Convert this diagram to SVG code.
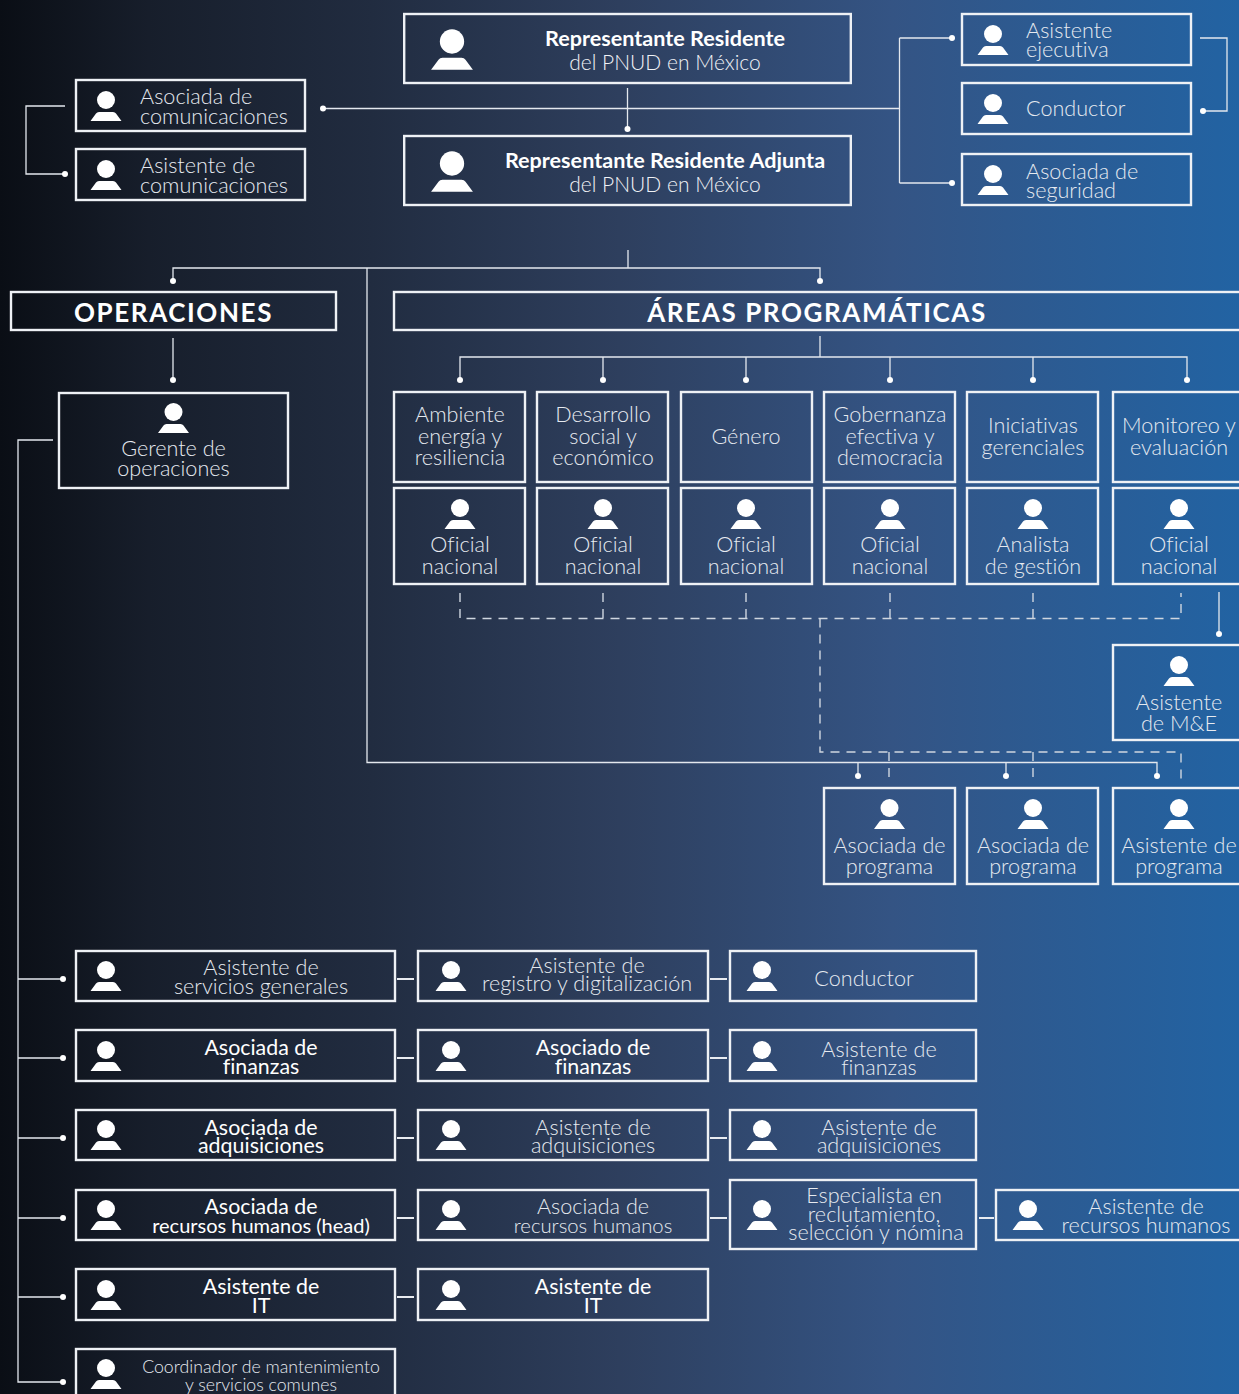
<svg xmlns="http://www.w3.org/2000/svg" width="1239" height="1394" viewBox="0 0 1239 1394">
<style>
text{font-family:"Lato","Liberation Sans",sans-serif;font-weight:300;font-size:21.6px;fill:#e6eaf0;text-anchor:middle;font-variant-ligatures:none}
.l{text-anchor:start}
.b{font-weight:700;font-size:21.6px;fill:#fff}
.r{font-weight:300;font-size:21px;fill:#f0f2f6}
.h{font-weight:700;font-size:26px;fill:#fff;letter-spacing:1.6px}
.w{fill:#fff;font-weight:400;font-size:21.4px}
.s{font-size:17.7px}
.q{font-size:20.3px}
rect.n{fill:none;stroke:#eef1f5;stroke-width:2.4}
.c{fill:none;stroke:#e4e8ee;stroke-width:1.3}
.d{fill:none;stroke:#cfd6e0;stroke-width:1.4;stroke-dasharray:9 7}
.k{fill:none;stroke:#e8ebf0;stroke-width:2.2}
.o{fill:#fff}
</style>
<defs>
<linearGradient id="bg" x1="0" y1="0" x2="1" y2="0">
<stop offset="0" stop-color="#0a0e15"/>
<stop offset="0.12" stop-color="#171e2b"/>
<stop offset="0.3" stop-color="#212c40"/>
<stop offset="0.5" stop-color="#2e3f5e"/>
<stop offset="0.72" stop-color="#345484"/>
<stop offset="1" stop-color="#2263a3"/>
</linearGradient>
<g id="p"><circle r="9" fill="#fff"/><path d="M-15.500 21L-10 13.500Q-9 12 -7 12H7Q9 12 10 13.500L15.500 21Z" fill="#fff"/></g>
</defs>
<rect width="1239" height="1394" fill="url(#bg)"/>
<g id="connectors">
<path class="c" d="M627.500 88V129M323 108.500H899.500M899.500 38V183M899.500 38H952M899.500 183H952M1200 38H1227V111H1203M65 106H26V174H65"/>
<path class="c" d="M628 250V268M173 281V268H820V281M367 268V762.500H1157V776M858 762.500V776M1006 762.500V776M173 338V380"/>
<path class="c" d="M820 336V357M460 380V357H1187V380M603 357V380M746 357V380M890 357V380M1033 357V380M1219 592V634"/>
<path class="d" d="M460 593V618.500H1181V593M603 593V618.500M746 593V618.500M890 593V618.500M1033 593V618.500M820 618.500V752H1181V781M889 752V781M1033 752V781"/>
<path class="c" d="M53 440H18V1382H65M18 979H65M18 1058H65M18 1138H65M18 1218H65M18 1297H65"/>
<path class="k" d="M397 979H414M710 979H727M397 1058H414M710 1058H727M397 1138H414M710 1138H727M397 1218H414M710 1218H727M979 1218H994M397 1297H414"/>
<g class="o">
<circle cx="627.500" cy="129" r="3"/><circle cx="323" cy="108.500" r="3"/><circle cx="952" cy="38" r="3"/><circle cx="952" cy="183" r="3"/><circle cx="1203" cy="111" r="3"/><circle cx="65" cy="174" r="3"/>
<circle cx="173" cy="281" r="3"/><circle cx="820" cy="281" r="3"/><circle cx="173" cy="380" r="3"/>
<circle cx="460" cy="380" r="3"/><circle cx="603" cy="380" r="3"/><circle cx="746" cy="380" r="3"/><circle cx="890" cy="380" r="3"/><circle cx="1033" cy="380" r="3"/><circle cx="1187" cy="380" r="3"/>
<circle cx="1219" cy="634" r="3"/><circle cx="858" cy="776" r="3"/><circle cx="1006" cy="776" r="3"/><circle cx="1157" cy="776" r="3"/>
<circle cx="63" cy="979" r="3"/><circle cx="63" cy="1058" r="3"/><circle cx="63" cy="1138" r="3"/><circle cx="63" cy="1218" r="3"/><circle cx="63" cy="1297" r="3"/><circle cx="63" cy="1382" r="3"/>
</g>
</g>

<g id="n-representante"><rect class="n" x="404.200" y="14" width="446.600" height="69"/><use href="#p" transform="translate(452 41.500) scale(1.35)"/><text class="b" x="665" y="46">Representante Residente</text><text class="r" x="665" y="70">del PNUD en México</text></g>
<g id="n-adjunta"><rect class="n" x="404.200" y="136" width="446.600" height="69"/><use href="#p" transform="translate(452 163.500) scale(1.35)"/><text class="b" x="665" y="168">Representante Residente Adjunta</text><text class="r" x="665" y="192">del PNUD en México</text></g>
<g id="n-asoc-com"><rect class="n" x="76" y="80" width="229" height="51"/><use href="#p" transform="translate(106 100)"/><text class="l" x="140" y="104">Asociada de</text><text class="l" x="140" y="124">comunicaciones</text></g>
<g id="n-asis-com"><rect class="n" x="76" y="149" width="229" height="51"/><use href="#p" transform="translate(106 169)"/><text class="l" x="140" y="173">Asistente de</text><text class="l" x="140" y="193">comunicaciones</text></g>
<g id="n-ejecutiva"><rect class="n" x="962" y="14" width="229" height="51"/><use href="#p" transform="translate(993 34)"/><text class="l" x="1026" y="38">Asistente</text><text class="l" x="1026" y="57">ejecutiva</text></g>
<g id="n-conductor1"><rect class="n" x="962" y="83" width="229" height="51"/><use href="#p" transform="translate(993 103)"/><text class="l" x="1026" y="116">Conductor</text></g>
<g id="n-seguridad"><rect class="n" x="962" y="154" width="229" height="51"/><use href="#p" transform="translate(993 174)"/><text class="l" x="1026" y="179">Asociada de</text><text class="l" x="1026" y="198">seguridad</text></g>

<g id="n-operaciones"><rect class="n" x="11" y="292" width="325" height="38"/><text class="h" x="173.500" y="322">OPERACIONES</text></g>
<g id="n-areas"><rect class="n" x="394" y="292" width="860" height="38"/><text class="h" x="817" y="322">ÁREAS PROGRAMÁTICAS</text></g>
<g id="n-gerente"><rect class="n" x="59" y="393" width="229" height="95"/><use href="#p" transform="translate(173.500 412)"/><text x="173.500" y="456">Gerente de</text><text x="173.500" y="476">operaciones</text></g>

<g id="n-a1"><rect class="n" x="394" y="392" width="131" height="90"/><text x="460" y="422">Ambiente</text><text x="460" y="444">energía y</text><text x="460" y="465">resiliencia</text></g>
<g id="n-a2"><rect class="n" x="537" y="392" width="131" height="90"/><text x="603" y="422">Desarrollo</text><text x="603" y="444">social y</text><text x="603" y="465">económico</text></g>
<g id="n-a3"><rect class="n" x="681" y="392" width="131" height="90"/><text x="746" y="444">Género</text></g>
<g id="n-a4"><rect class="n" x="824" y="392" width="131" height="90"/><text x="890" y="422">Gobernanza</text><text x="890" y="444">efectiva y</text><text x="890" y="465">democracia</text></g>
<g id="n-a5"><rect class="n" x="967" y="392" width="131" height="90"/><text x="1033" y="433">Iniciativas</text><text x="1033" y="455">gerenciales</text></g>
<g id="n-a6"><rect class="n" x="1113" y="392" width="140" height="90"/><text x="1179" y="433">Monitoreo y</text><text x="1179" y="455">evaluación</text></g>

<g id="n-o1"><rect class="n" x="394" y="488" width="131" height="96"/><use href="#p" transform="translate(460 508)"/><text x="460" y="552">Oficial</text><text x="460" y="574">nacional</text></g>
<g id="n-o2"><rect class="n" x="537" y="488" width="131" height="96"/><use href="#p" transform="translate(603 508)"/><text x="603" y="552">Oficial</text><text x="603" y="574">nacional</text></g>
<g id="n-o3"><rect class="n" x="681" y="488" width="131" height="96"/><use href="#p" transform="translate(746 508)"/><text x="746" y="552">Oficial</text><text x="746" y="574">nacional</text></g>
<g id="n-o4"><rect class="n" x="824" y="488" width="131" height="96"/><use href="#p" transform="translate(890 508)"/><text x="890" y="552">Oficial</text><text x="890" y="574">nacional</text></g>
<g id="n-o5"><rect class="n" x="967" y="488" width="131" height="96"/><use href="#p" transform="translate(1033 508)"/><text x="1033" y="552">Analista</text><text x="1033" y="574">de gestión</text></g>
<g id="n-o6"><rect class="n" x="1113" y="488" width="140" height="96"/><use href="#p" transform="translate(1179 508)"/><text x="1179" y="552">Oficial</text><text x="1179" y="574">nacional</text></g>
<g id="n-me"><rect class="n" x="1113" y="645" width="140" height="95"/><use href="#p" transform="translate(1179 665)"/><text x="1179" y="710">Asistente</text><text x="1179" y="731">de M&amp;E</text></g>
<g id="n-p1"><rect class="n" x="824" y="788" width="131" height="96"/><use href="#p" transform="translate(889.500 808)"/><text x="889.500" y="853">Asociada de</text><text x="889.500" y="874">programa</text></g>
<g id="n-p2"><rect class="n" x="967" y="788" width="131" height="96"/><use href="#p" transform="translate(1033 808)"/><text x="1033" y="853">Asociada de</text><text x="1033" y="874">programa</text></g>
<g id="n-p3"><rect class="n" x="1113" y="788" width="140" height="96"/><use href="#p" transform="translate(1179 808)"/><text x="1179" y="853">Asistente de</text><text x="1179" y="874">programa</text></g>

<g id="n-r1a"><rect class="n" x="76" y="951" width="319" height="50"/><use href="#p" transform="translate(106 970)"/><text x="261" y="975">Asistente de</text><text x="261" y="994">servicios generales</text></g>
<g id="n-r1b"><rect class="n" x="418" y="951" width="290" height="50"/><use href="#p" transform="translate(451 970)"/><text x="587" y="973">Asistente de</text><text x="587" y="991">registro y digitalización</text></g>
<g id="n-r1c"><rect class="n" x="730" y="951" width="246" height="50"/><use href="#p" transform="translate(762 970)"/><text x="864" y="986">Conductor</text></g>
<g id="n-r2a"><rect class="n" x="76" y="1030" width="319" height="51"/><use href="#p" transform="translate(106 1050)"/><text class="w" x="261" y="1055">Asociada de</text><text class="w" x="261" y="1074">finanzas</text></g>
<g id="n-r2b"><rect class="n" x="418" y="1030" width="290" height="51"/><use href="#p" transform="translate(451 1050)"/><text class="w" x="593" y="1055">Asociado de</text><text class="w" x="593" y="1074">finanzas</text></g>
<g id="n-r2c"><rect class="n" x="730" y="1030" width="246" height="51"/><use href="#p" transform="translate(762 1050)"/><text x="879" y="1057">Asistente de</text><text x="879" y="1075">finanzas</text></g>
<g id="n-r3a"><rect class="n" x="76" y="1110" width="319" height="50"/><use href="#p" transform="translate(106 1129)"/><text class="w" x="261" y="1135">Asociada de</text><text class="w" x="261" y="1153">adquisiciones</text></g>
<g id="n-r3b"><rect class="n" x="418" y="1110" width="290" height="50"/><use href="#p" transform="translate(451 1129)"/><text x="593" y="1135">Asistente de</text><text x="593" y="1153">adquisiciones</text></g>
<g id="n-r3c"><rect class="n" x="730" y="1110" width="246" height="50"/><use href="#p" transform="translate(762 1129)"/><text x="879" y="1135">Asistente de</text><text x="879" y="1153">adquisiciones</text></g>
<g id="n-r4a"><rect class="n" x="76" y="1190" width="319" height="50"/><use href="#p" transform="translate(106 1209)"/><text class="w" x="261" y="1214">Asociada de</text><text class="w" x="261" y="1233" style="font-size:20px">recursos humanos (head)</text></g>
<g id="n-r4b"><rect class="n" x="418" y="1190" width="290" height="50"/><use href="#p" transform="translate(451 1209)"/><text x="593" y="1214">Asociada de</text><text class="q" x="593" y="1233">recursos humanos</text></g>
<g id="n-r4c"><rect class="n" x="730" y="1180" width="246" height="69"/><use href="#p" transform="translate(762 1209)"/><text x="874" y="1203">Especialista en</text><text x="874" y="1222">reclutamiento,</text><text x="876" y="1240">selección y nómina</text></g>
<g id="n-r4d"><rect class="n" x="996" y="1190" width="255" height="50"/><use href="#p" transform="translate(1028 1209)"/><text x="1146" y="1214">Asistente de</text><text x="1146" y="1233">recursos humanos</text></g>
<g id="n-r5a"><rect class="n" x="76" y="1269" width="319" height="51"/><use href="#p" transform="translate(106 1289)"/><text class="w" x="261" y="1294">Asistente de</text><text class="w" x="261" y="1313">IT</text></g>
<g id="n-r5b"><rect class="n" x="418" y="1269" width="290" height="51"/><use href="#p" transform="translate(451 1289)"/><text class="w" x="593" y="1294">Asistente de</text><text class="w" x="593" y="1313">IT</text></g>
<g id="n-r6"><rect class="n" x="76" y="1349" width="319" height="60"/><use href="#p" transform="translate(106 1368)"/><text class="s" x="261" y="1373">Coordinador de mantenimiento</text><text class="s" x="261" y="1391">y servicios comunes</text></g>
</svg>
